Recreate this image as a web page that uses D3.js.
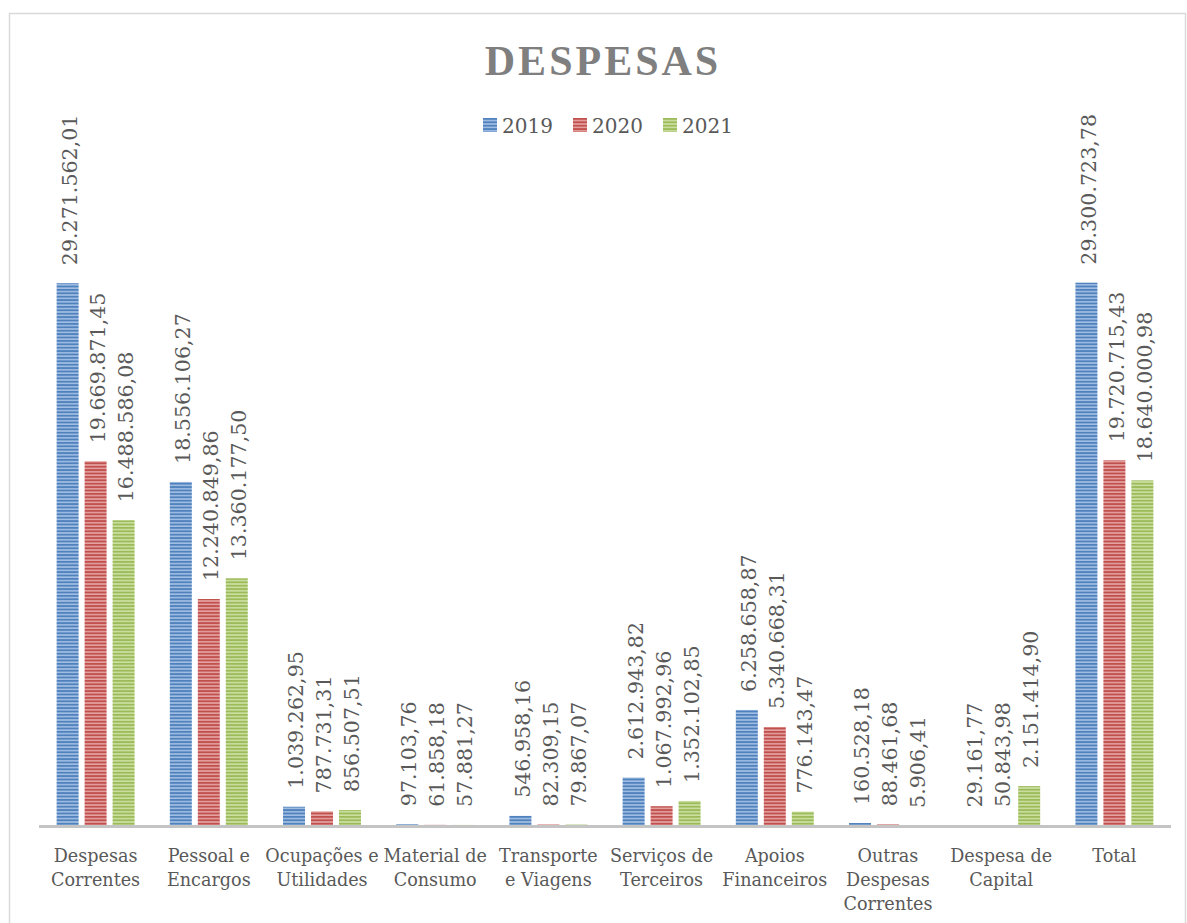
<!DOCTYPE html>
<html>
<head>
<meta charset="utf-8">
<script src="https://cdn.jsdelivr.net/npm/d3@7"></script>
<style>
  body { margin: 0; background: #fff; }
  svg { display: block; }
</style>
</head>
<body>
<div id="chart"></div>
<script>
  // dados
  let categories = [
    "Despesas Correntes", "Pessoal e Encargos", "Ocupações e Utilidades",
    "Material de Consumo", "Transporte e Viagens", "Serviços de Terceiros",
    "Apoios Financeiros", "Outras Despesas Correntes", "Despesa de Capital", "Total"
  ]
  let catLines = [
    ["Despesas", "Correntes"], ["Pessoal e", "Encargos"], ["Ocupações e", "Utilidades"],
    ["Material de", "Consumo"], ["Transporte", "e Viagens"], ["Serviços de", "Terceiros"],
    ["Apoios", "Financeiros"], ["Outras", "Despesas", "Correntes"], ["Despesa de", "Capital"], ["Total"]
  ]
  let years = ["2019", "2020", "2021"]
  let v2019 = [29271562.01, 18556106.27, 1039262.95, 97103.76, 546958.16, 2612943.82, 6258658.87, 160528.18, 29161.77, 29300723.78]
  let v2020 = [19669871.45, 12240849.86, 787731.31, 61858.18, 82309.15, 1067992.96, 5340668.31, 88461.68, 50843.98, 19720715.43]
  let v2021 = [16488586.08, 13360177.50, 856507.51, 57881.27, 79867.07, 1352102.85, 776143.47, 5906.41, 2151414.90, 18640000.98]
  let series = [v2019, v2020, v2021]
  let colors = ["#4f81bd", "#c0504d", "#9bbb59"]
  let lights = ["#abc5e7", "#e8aba9", "#d2e4aa"]

  let width = 1187, height = 923
  let textColor = "#595959"
  let serif = "'DejaVu Serif', serif"

  let svg = d3.select("#chart").append("svg")
    .attr("width", width)
    .attr("height", height)

  // texturas listradas
  let defs = svg.append("defs")
  years.forEach(function(yr, i){
    let p = defs.append("pattern")
      .attr("id", "stripe" + yr)
      .attr("patternUnits", "userSpaceOnUse")
      .attr("width", 8).attr("height", 3.4)
    p.append("rect").attr("width", 8).attr("height", 3.4).attr("fill", colors[i])
    p.append("rect").attr("y", 1.8).attr("width", 8).attr("height", 1.6)
      .attr("fill", lights[i]).attr("opacity", 0.9)
  })

  // moldura
  svg.append("rect")
    .attr("x", 9.5).attr("y", 13.5)
    .attr("width", 1176).attr("height", 930)
    .attr("fill", "none").attr("stroke", "#d9d9d9").attr("stroke-width", 1.5)

  svg.append("text")
    .attr("x", 603).attr("y", 75)
    .attr("text-anchor", "middle")
    .style("font-family", "'Liberation Serif', serif")
    .style("font-weight", "bold")
    .style("font-size", "42px")
    .style("letter-spacing", "3px")
    .style("fill", "#7f7f7f")
    .text("DESPESAS")

  // legenda
  let legend = svg.append("g").attr("class", "legend")
  let legX = [483, 573, 663]
  years.forEach(function(yr, i){
    let g = legend.append("g").attr("transform", "translate(" + legX[i] + ",118)")
    g.append("rect").attr("width", 14).attr("height", 14).attr("fill", "url(#stripe" + yr + ")")
    g.append("text").attr("x", 19).attr("y", 14.5)
      .style("font-family", serif).style("font-size", "20px").style("fill", textColor)
      .text(yr)
  })

  let x0 = d3.scaleBand().domain(categories).range([39, 1171]).padding(0)
  let x1 = d3.scaleBand().domain(years).range([0, x0.bandwidth()])
    .paddingInner(0.214).paddingOuter(0.63)
  let y = d3.scaleLinear().domain([0, 35000000]).range([826, 177])

  let ptbr = d3.formatLocale({decimal: ",", thousands: ".", grouping: [3], currency: ["", ""]})
  let fmt = ptbr.format(",.2f")

  let rows = []
  categories.forEach(function(c, ci){
    years.forEach(function(yr, si){
      rows.push({cat: c, year: yr, si: si, value: series[si][ci]})
    })
  })

  let bars = svg.append("g").attr("class", "bars")
  bars.selectAll("rect")
    .data(rows)
    .enter().append("rect")
      .attr("x", function(d){ return x0(d.cat) + x1(d.year) })
      .attr("y", function(d){ return y(d.value) })
      .attr("width", x1.bandwidth())
      .attr("height", function(d){ return y(0) - y(d.value) })
      .attr("fill", function(d){ return "url(#stripe" + d.year + ")" })

  // rotulos de dados
  svg.append("g").attr("class", "labels")
    .selectAll("text")
    .data(rows)
    .enter().append("text")
      .attr("transform", function(d){
        let cx = x0(d.cat) + x1(d.year) + x1.bandwidth() / 2 + 2
        return "translate(" + cx + "," + (y(d.value) - 18) + ") rotate(-90)"
      })
      .attr("dy", "0.35em")
      .style("font-family", serif)
      .style("font-size", "20.6px")
      .style("fill", textColor)
      .text(function(d){ return fmt(d.value) })

  // eixo x
  svg.append("line")
    .attr("x1", 39).attr("x2", 1171)
    .attr("y1", 826.5).attr("y2", 826.5)
    .attr("stroke", "#c4c4c4").attr("stroke-width", 3)

  let catText = svg.append("g").attr("class", "cats")
    .selectAll("text")
    .data(categories)
    .enter().append("text")
      .attr("x", function(d){ return x0(d) + x0.bandwidth() / 2 })
      .attr("y", 862)
      .attr("text-anchor", "middle")
      .style("font-family", serif)
      .style("font-size", "17.6px")
      .style("fill", textColor)

  catText.each(function(d, i){
    let t = d3.select(this)
    catLines[i].forEach(function(line, j){
      t.append("tspan")
        .attr("x", x0(d) + x0.bandwidth() / 2)
        .attr("dy", j == 0 ? 0 : 24)
        .text(line)
    })
  })
</script>
</body>
</html>
